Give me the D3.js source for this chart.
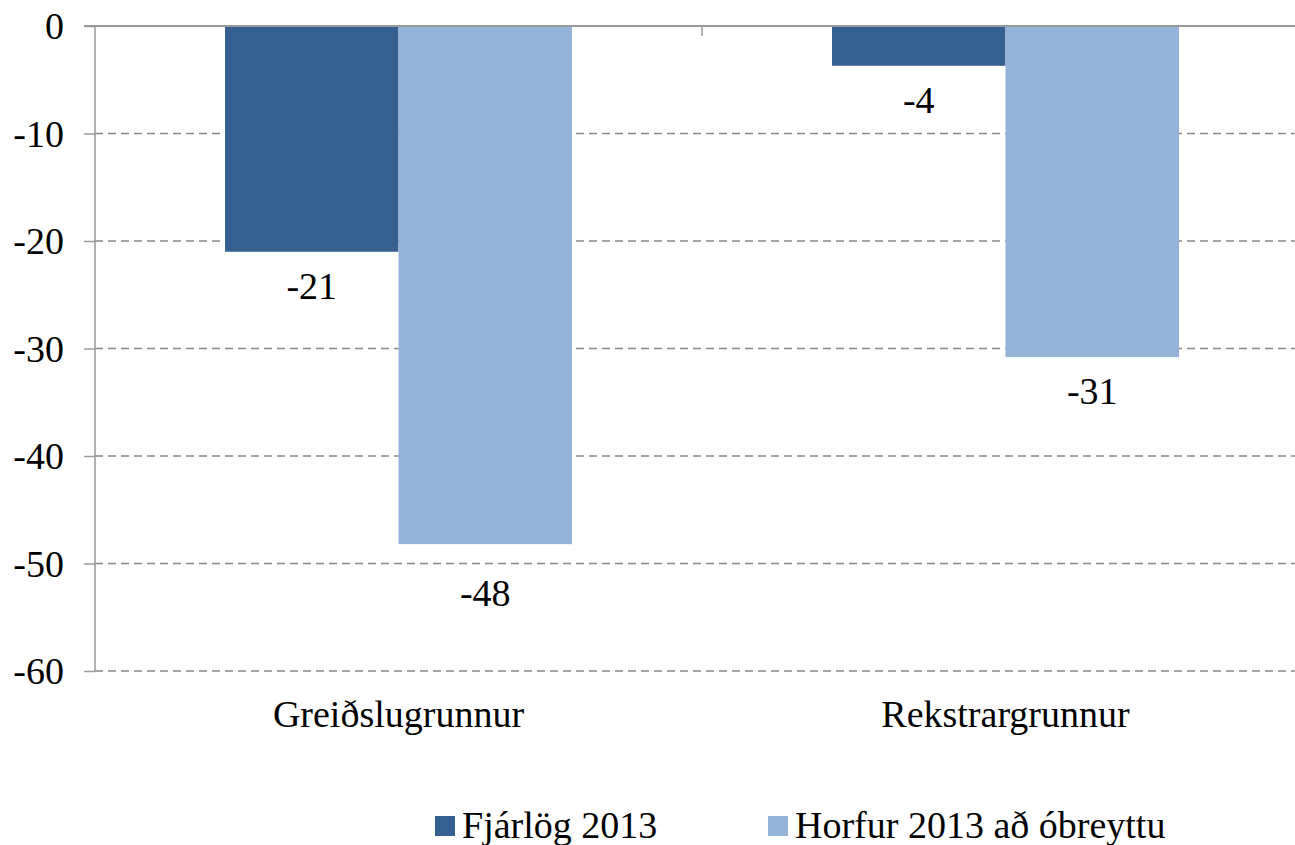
<!DOCTYPE html>
<html>
<head>
<meta charset="utf-8">
<script src="https://cdn.jsdelivr.net/npm/d3@7"></script>
</head>
<body style="margin:0; background:#fff">
<svg width="1295" height="845"></svg>
<script>
// data
var categories = ["Greiðslugrunnur", "Rekstrargrunnur"];
var seriesNames = ["Fjárlög 2013", "Horfur 2013 að óbreyttu"];
var fjarlog = [-21.0, -3.7];
var horfur = [-48.2, -30.8];
var yTicks = [0, -10, -20, -30, -40, -50, -60];

var colors = ["#36608f", "#95b3d7"];
var fontSize = 38;
var serif = "'Liberation Serif'";

var svg = d3.select("svg");
var plotLeft = 95, plotRight = 1309, plotTop = 26, plotBottom = 671;

var x = d3.scaleBand().domain(categories).range([plotLeft, plotRight]);
var xs = d3.scaleBand().domain([0, 1]).range([0, 347]);
var y = d3.scaleLinear().domain([0, -60]).range([plotTop, plotBottom]);

// gridlines
svg.append("g").selectAll("line")
  .data(yTicks.filter(function(d) { return d != 0; }))
  .enter().append("line")
  .attr("x1", plotLeft).attr("x2", 1295)
  .attr("y1", function(d) { return y(d); })
  .attr("y2", function(d) { return y(d); })
  .attr("stroke", "#888").attr("stroke-width", 1.3)
  .attr("stroke-dasharray", "8,5");

// bars
var rows = categories.map(function(c, i) { return [fjarlog[i], horfur[i]]; });
var groups = svg.append("g").selectAll("g")
  .data(rows).enter().append("g")
  .attr("transform", function(d, i) {
    return "translate(" + (x(categories[i]) + (x.bandwidth() - 347) / 2) + ",0)";
  });

groups.selectAll("rect")
  .data(function(d) { return d; })
  .enter().append("rect")
  .attr("x", function(d, j) { return xs(j); })
  .attr("y", y(0))
  .attr("width", xs.bandwidth())
  .attr("height", function(d) { return y(d) - y(0); })
  .attr("fill", function(d, j) { return colors[j]; });

// labels under the bar end; if a gridline runs right through the label, push it below the line
groups.selectAll("text")
  .data(function(d) { return d; })
  .enter().append("text")
  .attr("x", function(d, j) { return xs(j) + xs.bandwidth() / 2; })
  .attr("y", function(d) {
    var ly = y(d) + 47;
    var nextGrid = y(Math.floor(d / 10) * 10);
    if (nextGrid > ly - 30 && nextGrid < ly) ly = nextGrid + 42;
    return ly;
  })
  .attr("text-anchor", "middle")
  .style("font-family", serif)
  .style("font-size", fontSize + "px")
  .text(function(d) { return Math.round(d); });

// y axis
var yAxis = svg.append("g")
  .attr("transform", "translate(" + plotLeft + ",0)")
  .call(d3.axisLeft(y).tickValues(yTicks).tickSize(11).tickPadding(20)
    .tickFormat(function(d) { return String(d); }));
yAxis.selectAll("line, path").attr("stroke", "#999").attr("stroke-width", 1.5);
yAxis.select(".domain").attr("d", "M0," + plotTop + "V" + plotBottom);
yAxis.selectAll("text")
  .style("font-family", serif)
  .style("font-size", fontSize + "px")
  .attr("fill", "#000")
  .attr("dy", "0.34em");

// x axis along zero line
var xAxis = svg.append("g")
  .attr("transform", "translate(0," + y(0) + ")");
xAxis.append("line")
  .attr("x1", plotLeft - 11).attr("x2", 1295)
  .attr("stroke", "#999").attr("stroke-width", 2);
xAxis.selectAll(".tk")
  .data(categories.slice(1)).enter().append("line")
  .attr("class", "tk")
  .attr("x1", function(d) { return x(d); })
  .attr("x2", function(d) { return x(d); })
  .attr("y1", 0).attr("y2", 10)
  .attr("stroke", "#999").attr("stroke-width", 1.5);

// category labels
svg.append("g").selectAll("text")
  .data(categories).enter().append("text")
  .attr("x", function(d) { return x(d) + x.bandwidth() / 2; })
  .attr("y", 727)
  .attr("text-anchor", "middle")
  .style("font-family", serif)
  .style("font-size", fontSize + "px")
  .text(function(d) { return d; });

// legend
var legendX = [435, 768];
var lg = svg.append("g").selectAll("g")
  .data(seriesNames).enter().append("g")
  .attr("transform", function(d, i) { return "translate(" + legendX[i] + ",816)"; });
lg.append("rect")
  .attr("width", 20).attr("height", 20)
  .attr("fill", function(d, i) { return colors[i]; });
lg.append("text")
  .attr("x", 27).attr("y", 22)
  .style("font-family", serif)
  .style("font-size", fontSize + "px")
  .text(function(d) { return d; });
</script>
</body>
</html>
